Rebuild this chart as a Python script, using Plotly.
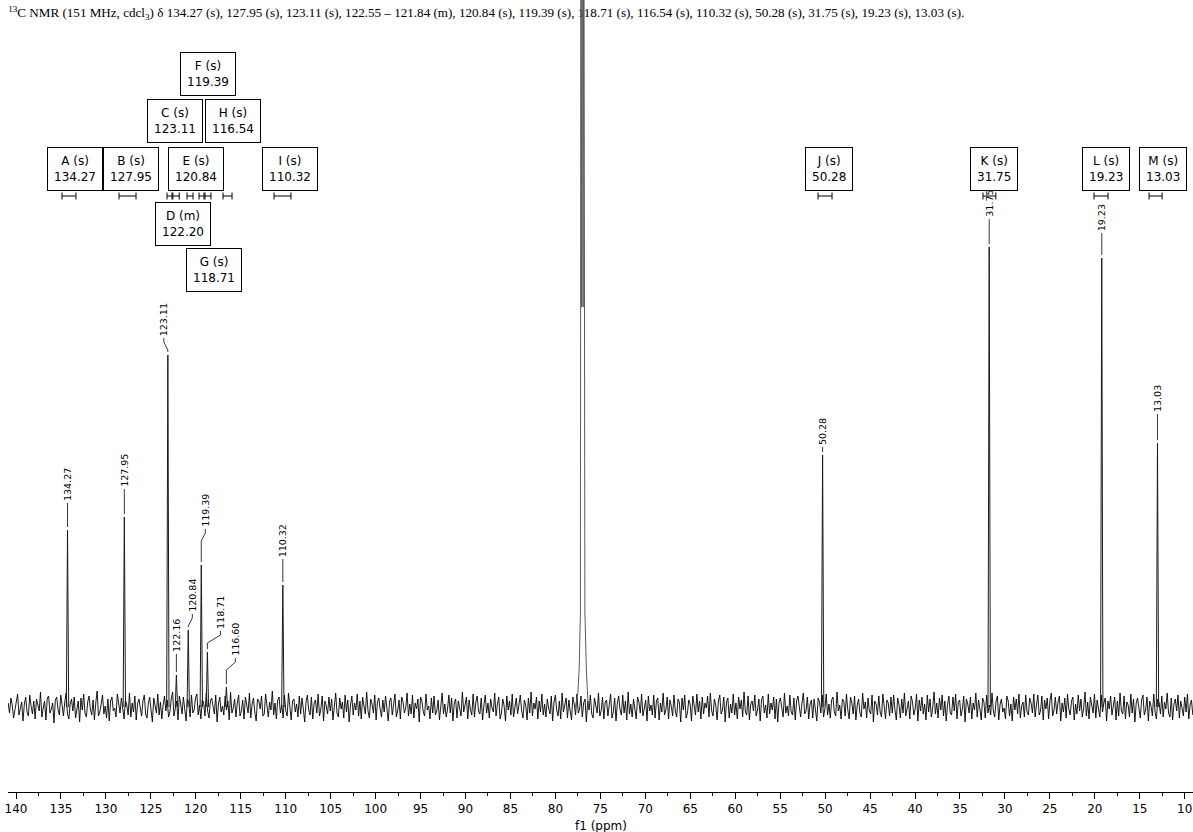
import numpy as np
import plotly.graph_objects as go

# ---------------- data ----------------
peak_labels = ["134.27", "127.95", "123.11", "122.16", "120.84", "119.39", "118.71",
               "116.60", "110.32", "50.28", "31.75", "19.23", "13.03"]
peak_ppm = [134.27, 127.95, 123.11, 122.16, 120.84, 119.39, 118.71,
            116.60, 110.32, 50.28, 31.75, 19.23, 13.03]
peak_height = [177, 190, 352, 32, 77, 142, 55, 20, 122, 252, 460, 449, 264]

# CDCl3 solvent triplet (clipped at the top of the plot)
solvent_ppm = [77.75, 77.5, 77.35, 77.22, 77.16, 77.08, 77.0, 76.92, 76.84, 76.72, 76.55, 76.35]
solvent_height = [0, 14, 40, 95, 900, 400, 900, 400, 900, 95, 35, 0]

# multiplet analysis boxes
mult_name = ["A", "B", "C", "D", "E", "F", "G", "H", "I", "J", "K", "L", "M"]
mult_kind = ["s", "s", "s", "m", "s", "s", "s", "s", "s", "s", "s", "s", "s"]
mult_shift = ["134.27", "127.95", "123.11", "122.20", "120.84", "119.39", "118.71",
              "116.54", "110.32", "50.28", "31.75", "19.23", "13.03"]
mult_hi = [134.88, 128.54, 123.20, 122.55, 120.98, 119.64, 118.98, 116.97, 111.30, 50.79, 32.44, 20.09, 13.97]
mult_lo = [133.33, 126.65, 122.65, 121.84, 120.31, 119.09, 118.31, 115.97, 109.41, 49.23, 31.01, 18.53, 12.52]

# baseline noise (left to right)
noise = [
    4, -6, 9, 2, -11, -3, 7, 13, -8, -2, 5, -14, 3, 10, -5, -9, 12, 1, -7, 6,
    -12, 8, 3, -4, 15, -10, -1, 6, -13, 9, 11, -6, -2, 4, -16, 7, 10, -3, -8, 12,
    2, -9, 5, 14, -7, -12, 3, 8, -4, 10, -11, 0, 6, -15, 9, -3, 13, -6, -10, 5,
    11, -2, -8, 7, -13, 4, 16, -9, -5, 3, 12, -7, 1, -11, 8, -14, 6, 10, -4, -1,
    -10, 13, 5, -6, 9, -3, -12, 7, 2, -8, 14, -10, 4, -5, 11, -13, 3, 8, -2, -9,
    6, 12, -7, -11, 4, 10, -3, -15, 9, 1, -6, 13, -8, 5, -12, 2, 11, -4, 7, -10,
    -5, 8, 15, -9, -2, 6, -13, 11, 3, -7, 10, -1, -14, 8, 4, -10, 12, -6, -3, 9,
    13, -8, 2, -12, 7, 5, -9, 14, -4, -11, 6, 9, -2, -7, 12, -15, 3, 10, -5, 1,
    -8, 11, -3, 6, -13, 15, -6, -1, 8, -10, 4, 12, -9, -4, 7, -12, 10, 2, -6, 14,
    -11, 3, 9, -5, -14, 8, 6, -2, 11, -9, -7, 13, 1, -10, 5, -3, 16, -8, 4, -12,
    7, 10, -6, 2, -11, 12, -4, -9, 14, -1, -13, 6, 8, -5, 3, -10, 11, -7, 9, -2,
    -15, 5, 12, -3, -8, 10, -12, 4, 7, -6, 13, -9, -2, 11, -14, 6, 1, -7, 10, -4,
    8, -13, 3, 14, -6, -10, 9, -2, 5, -11, 12, -5, 7, -15, 2, 11, -8, 4, -3, 13,
    -9, 6, -12, 10, 1, -7, 15, -4, -11, 8, 3, -6, 12, -13, 5, 9, -2, -10, 7, -5,
    11, -3, -14, 6, 9, -8, 2, 13, -10, -4, 7, -12, 10, 5, -6, -1, 14, -9, 3, -7,
    12, -11, 4, -2, 8, -15, 10, 6, -5, -9, 13, -3, 1, -12, 9, -6, 11, -8, -4, 7,
    -13, 5, 14, -7, 3, -10, -2, 12, -6, 9, -14, 4, 8, -11, 6, -1, -9, 15, -5, 2,
    10, -12, 7, -3, -8, 13, -10, 5, 11, -4, -7, 9, -13, 2, 12, -6, 4, -11, 8, -1,
    -5, 14, -9, 3, 10, -12, -6, 8, 1, -14, 11, -3, 6, -8, 13, -10, -2, 9, -7, 5,
    12, -4, -11, 7, 2, -13, 9, -6, 15, -9, 4, -2, 10, -12, 6, -5, 13, -8, 3, -10,
    8, -1, -7, 11, -14, 5, 12, -3, -9, 6, -12, 14, -5, 2, 9, -11, 7, -4, -13, 10,
    3, -8, 13, -6, -2, 11, -10, 4, 8, -15, 6, -3, 12, -7, -11, 9, 1, -6, 14, -9,
    -4, 10, -12, 5, 7, -9, 2, 13, -11, -5, 9, -14, 4, 11, -3, -8, 12, -6, 6, -13,
    15, -7, 3, -10, 8, -2, -12, 10, 5, -6, 13, -9, -1, 7, -14, 11, -4, 2, -8, 12,
    -11, 6, 9, -13, 4, -5, 14, -8, -3, 10, -12, 7, 1, -9, 12, -4, -10, 8, 5, -15,
    9, -3, 12, -11, -6, 7, 3, -14, 11, -2, -8, 13, -5, 6, -12, 10, -7, 4, -1, 11,
    -10, 14, -4, -9, 8, 2, -13, 6, 12, -7, -3, 10, -15, 5, 9, -11, 3, -6, 13, -8,
    4, -12, 10, -2, 7, -10, 15, -5, -8, 11, -13, 3, 6, -4, 12, -9, -3, 8, -14, 7,
    11, -6, 2, -11, 13, -7, 4, -3, 10, -12, 8, -15, 5, 9, -2, -10, 14, -6, 1, -9,
    12, -5, -8, 9, -13, 6, 11, -1, -10, 4, 14, -7, -4, 10, -12, 3, 7, -11, 8, -3,
    -14, 9, 5, -6, 12, -10, -2, 13, -8, 3, -11, 7, 10, -5, -9, 15, -4, 2, -12, 8,
    6, -9, 13, -3, -12, 10, 4, -7, 11, -13, 2, 8, -6, -10, 14, -2, 5, -11, 9, -4,
    -7, 12, -15, 6, 3, -8, 11, -5, -10, 13, -1, -12, 7, 4, -9, 10, -6, 12, -3, -13,
    9, 2, -11, 8, -6, 14, -9, -3, 6, -12, 11, 5, -8, -2, 13, -14, 7, -4, 10, -7,
    3, -13, 12, -5, 8, -10, -1, 15, -7, 4, -11, 9, -3, 12, -9, 6, -14, 2, 11, -6,
    -8, 10, -4, 13, -12, 5, 7, -9, -2, 11, -15, 8, 3, -6, 10, -12, 4, -3, 14, -10,
    7, -2, -13, 9, 5, -11, 12, -6, 2, -8, 14, -4, -10, 6, 11, -13, 3, 8, -5, -1,
    -12, 11, 6, -9, 3, -14, 10, -3, 8, -7, 13, -11, 1, 5, -10, 12, -5, -8, 9, 4,
    -6, 13, -10, 2, 12, -8, -4, 11, -13, 7, -2, 9, -12, 6, 14, -9, -3, 10, -7, 5,
    11, -14, 4, -5, 9, -11, 13, -2, -8, 6, 10, -13, 3, -7, 12, -4, 8, -10, -1, 15,
    -9, 5, -12, 10, 2, -6, 13, -11, 7, -3, -10, 12, -5, 4, 9, -14, 6, -2, 11, -8,
    3, 10, -13, 6, -9, 14, -4, -7, 11, -12, 5, 2, -10, 13, -6, 8, -15, 4, 9, -3,
    -11, 7, 12, -8, -3, 10, -14, 6, 1, -9, 13, -5, -12, 8, 4, -7, 11, -10, 5, -2,
    14, -6, -10, 9, -13, 3, 8, -4, 12, -11, 6, -1, -9, 10, -5, 13, -12, 2, 7, -8,
]

# ---------------- layout positions (ppm, intensity units) ----------------
X_RANGE = [140.89, 9.08]
Y_RANGE = [-85, 707]
label_x = [134.27, 127.95, 123.56, 122.16, 120.39, 118.94, 117.26, 115.60, 110.32, 50.28, 31.75, 19.23, 13.03]
label_bottom = [205, 219, 370, 54, 94, 179, 77, 50, 149, 261, 489, 475, 294]
box_x = [133.49, 127.21, 122.37, 121.42, 120.03, 118.64, 117.98, 115.81, 109.52, 49.62, 31.21, 18.75, 12.47]
box_y = [538, 538, 586.5, 483.5, 538, 633.5, 437, 586.5, 538, 538.5, 538.5, 538.5, 538.5]
marker_y = 511

BLACK = "#000000"
LABEL_FONT = "DejaVu Sans"

fig = go.Figure()

# title (drawn as a trace so the solvent peak lies over it)
entries = []
for n, k, s, lo, hi in zip(mult_name, mult_kind, mult_shift, mult_lo, mult_hi):
    if k == "m":
        entries.append(f"{hi:.2f} – {lo:.2f} (m)")
    else:
        entries.append(f"{s} ({k})")
title_text = "<sup>13</sup>C NMR (151 MHz, cdcl<sub>3</sub>) δ " + ", ".join(entries) + "."
fig.add_trace(go.Scatter(
    x=[X_RANGE[0] - 0.02], y=[693], mode="text", text=[title_text], textposition="middle right",
    textfont=dict(family="Liberation Serif", size=13.1, color=BLACK),
    cliponaxis=False, hoverinfo="skip", showlegend=False))

# noise baseline
noise_x = np.linspace(X_RANGE[0] - 0.02, X_RANGE[1] + 0.02, len(noise))
fig.add_trace(go.Scatter(x=noise_x, y=noise, mode="lines",
                         line=dict(color=BLACK, width=0.9), hoverinfo="skip", showlegend=False))

# peaks
px_, py_ = [], []
for p, h in zip(peak_ppm, peak_height):
    px_ += [p + 0.13, p, p - 0.13, None]
    py_ += [0, h, 0, None]
fig.add_trace(go.Scatter(x=px_, y=py_, mode="lines",
                         line=dict(color="#1a1a1a", width=1), hoverinfo="skip", showlegend=False))

# solvent
fig.add_trace(go.Scatter(x=solvent_ppm, y=solvent_height, mode="lines",
                         line=dict(color="#5a5a5a", width=1), hoverinfo="skip", showlegend=False))

# peak label connectors
cx, cy = [], []
for p, h, lx, lb in zip(peak_ppm, peak_height, label_x, label_bottom):
    if abs(lx - p) > 0.05:
        cx += [lx, lx, p, p, None]
        cy += [lb - 1, lb - 5, lb - 13, h + 3, None]
    else:
        cx += [p, p, None]
        cy += [lb - 1, h + 3, None]
fig.add_trace(go.Scatter(x=cx, y=cy, mode="lines",
                         line=dict(color="#222222", width=0.9), hoverinfo="skip", showlegend=False))

# multiplet range markers |-|
mx, my = [], []
for lo, hi in zip(mult_lo, mult_hi):
    mx += [hi, hi, None, hi, lo, None, lo, lo, None]
    my += [marker_y - 3.5, marker_y + 3.5, None, marker_y, marker_y, None, marker_y - 3.5, marker_y + 3.5, None]
fig.add_trace(go.Scatter(x=mx, y=my, mode="lines",
                         line=dict(color=BLACK, width=1), hoverinfo="skip", showlegend=False))

annotations = []
# rotated peak labels
for t, lx, lb in zip(peak_labels, label_x, label_bottom):
    annotations.append(dict(
        x=lx, y=lb, xref="x", yref="y", text=t, showarrow=False, textangle=-90,
        xanchor="center", yanchor="bottom", borderpad=0,
        font=dict(family=LABEL_FONT, size=9.5, color=BLACK)))
# multiplet boxes
for n, k, s, bx, by in zip(mult_name, mult_kind, mult_shift, box_x, box_y):
    annotations.append(dict(
        x=bx, y=by, xref="x", yref="y", text=f"{n} ({k})<br>{s}", showarrow=False,
        xanchor="center", yanchor="middle", align="center",
        bordercolor=BLACK, borderwidth=1, borderpad=6, bgcolor="white",
        font=dict(family=LABEL_FONT, size=12, color=BLACK)))
# axis title
annotations.append(dict(
    x=0.5, y=0, xref="paper", yref="paper", yshift=-34, text="f1 (ppm)", showarrow=False,
    xanchor="center", yanchor="middle", font=dict(family=LABEL_FONT, size=12, color=BLACK)))

fig.update_layout(
    width=1193, height=832,
    margin=dict(l=8, r=0, t=0, b=40),
    paper_bgcolor="white", plot_bgcolor="white",
    showlegend=False,
    annotations=annotations,
    xaxis=dict(
        range=X_RANGE, tickmode="linear", tick0=0, dtick=5,
        ticks="outside", ticklen=6, tickwidth=1, tickcolor=BLACK,
        showline=True, linecolor=BLACK, linewidth=1, showgrid=False, zeroline=False,
        tickfont=dict(family=LABEL_FONT, size=12, color=BLACK),
        minor=dict(ticks="outside", ticklen=3, dtick=2.5, tick0=0, tickcolor=BLACK, showgrid=False),
    ),
    yaxis=dict(range=Y_RANGE, visible=False, showgrid=False, zeroline=False),
)

fig.write_html("out.html", config={"displayModeBar": False},
               post_script="document.body.style.margin='0';")
